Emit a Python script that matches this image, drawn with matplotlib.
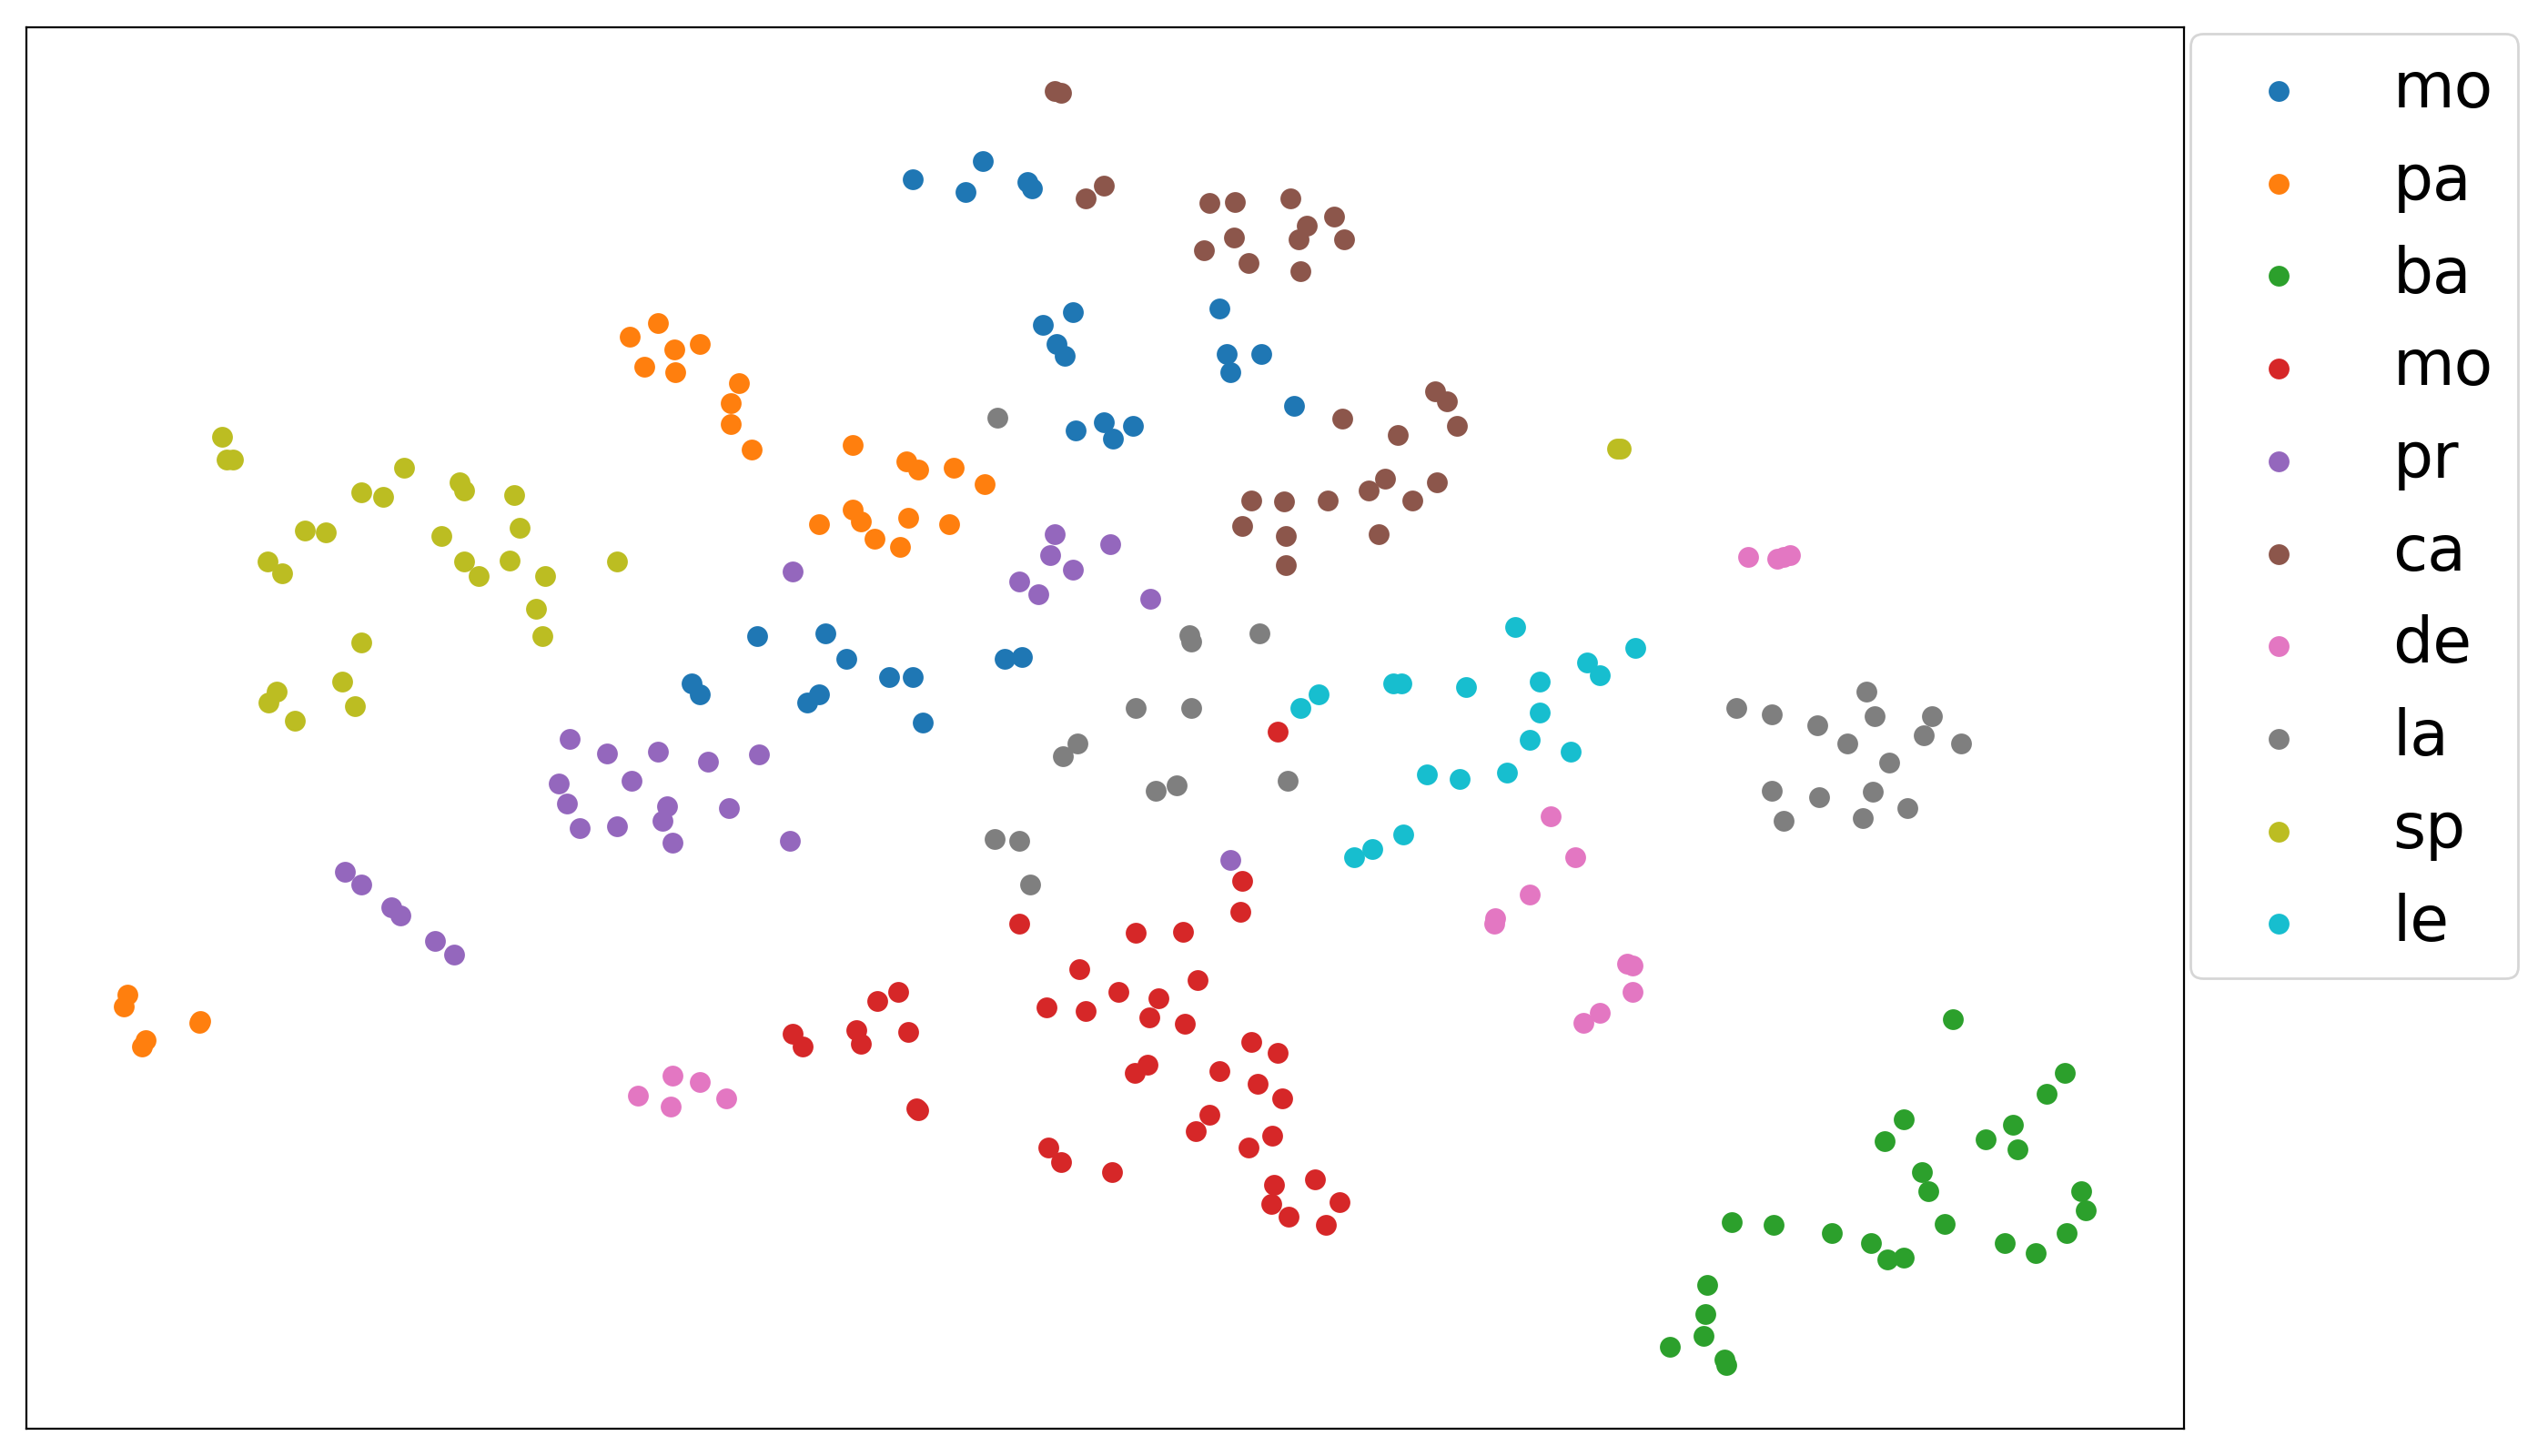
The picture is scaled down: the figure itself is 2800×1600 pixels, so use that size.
import matplotlib.pyplot as plt

# 2-D embedding coordinates (y grows upward)
labels = ["mo", "pa", "ba", "mo", "pr", "ca", "de", "la", "sp", "le"]

mo1_x = [563, 595, 606, 633, 636, 643, 661, 651, 656, 663, 680, 686, 698, 751, 756, 777, 758, 797,
         467, 509, 522, 548, 563, 569, 427, 432, 498, 505, 619, 630]
mo1_y = [110, 118, 99, 112, 116, 200, 192, 212, 219, 265, 260, 270, 262, 190, 218, 218, 229, 250,
         392, 390, 406, 417, 417, 445, 421, 428, 433, 428, 406, 405]

pa_x = [389, 406, 398, 416, 432, 417, 456, 451, 451, 464, 526, 559, 566, 588, 607, 505, 526, 531,
        539, 555, 560, 585, 78, 80, 89, 91, 124, 125]
pa_y = [207, 199, 226, 215, 212, 229, 236, 248, 261, 277, 274, 284, 289, 288, 298, 323, 314, 321,
        332, 337, 319, 323, 620, 613, 645, 641, 630, 629]

ba_x = [1202, 1271, 1260, 1172, 1160, 1222, 1239, 1242, 1183, 1187, 1281, 1284, 1197, 1066, 1092,
        1128, 1152, 1162, 1172, 1234, 1253, 1272, 1051, 1050, 1049, 1028, 1062, 1063]
ba_y = [628, 661, 674, 690, 703, 702, 693, 708, 722, 734, 734, 746, 754, 753, 755, 760, 766, 776,
        775, 766, 772, 760, 792, 810, 823, 830, 838, 841]

mo2_x = [787, 765, 764, 628, 700, 729, 665, 738, 689, 714, 645, 669, 708, 730, 771, 787, 707, 699,
         751, 775, 790, 745, 737, 784, 769, 646, 654, 685, 785, 810, 783, 825, 794, 817,
         541, 554, 489, 495, 528, 531, 560, 565, 566]
mo2_y = [451, 543, 562, 569, 575, 574, 597, 604, 611, 615, 621, 623, 627, 631, 642, 649, 656, 661,
         660, 668, 677, 687, 697, 700, 707, 707, 716, 722, 730, 727, 742, 741, 750, 755,
         617, 611, 637, 645, 635, 643, 636, 683, 684]

pr_x = [650, 684, 647, 661, 628, 640, 709, 489, 758, 352, 375, 406, 437, 468, 390, 345, 350, 412,
        409, 450, 358, 381, 415, 487, 214, 224, 242, 248, 269, 281]
pr_y = [329, 335, 342, 351, 358, 366, 369, 352, 530, 455, 464, 463, 469, 465, 481, 483, 495, 497,
        506, 498, 510, 509, 519, 518, 537, 545, 559, 564, 580, 588]

ca_x = [650, 654, 680, 669, 745, 761, 795, 822, 805, 760, 742, 769, 800, 828, 801, 884, 891, 897,
        827, 861, 771, 791, 818, 853, 885, 843, 870, 765, 792, 849, 792]
ca_y = [56, 57, 114, 122, 125, 124, 122, 133, 139, 146, 154, 162, 147, 147, 167, 241, 247, 262,
        258, 268, 308, 309, 308, 295, 297, 302, 308, 324, 330, 329, 348]

de_x = [1076, 1094, 1098, 1102, 955, 970, 942, 921, 920, 1002, 1005, 1005, 985, 975,
        394, 415, 432, 448, 414]
de_y = [343, 344, 343, 342, 503, 528, 551, 566, 569, 594, 595, 611, 624, 630,
        675, 663, 667, 677, 682]

la_x = [615, 733, 734, 776, 700, 734, 664, 655, 712, 725, 793, 613, 628, 635,
        1149, 1069, 1091, 1119, 1154, 1189, 1137, 1184, 1207, 1163, 1091, 1120, 1153, 1098, 1147, 1174]
la_y = [257, 391, 395, 390, 436, 436, 458, 466, 487, 484, 481, 517, 518, 545,
        426, 436, 440, 447, 441, 441, 458, 453, 458, 470, 487, 491, 488, 506, 504, 498]

sp_x = [138, 141, 145, 224, 237, 250, 284, 287, 318, 189, 202, 273, 321, 166, 175, 287, 296, 315,
        337, 381, 331, 335, 224, 212, 172, 167, 183, 220, 996, 998]
sp_y = [269, 283, 283, 303, 306, 288, 297, 302, 305, 327, 328, 330, 325, 346, 353, 346, 355, 345,
        355, 346, 375, 392, 396, 420, 426, 433, 444, 435, 276, 276]

le_x = [933, 1007, 977, 985, 948, 858, 863, 903, 812, 801, 948, 942, 967, 879, 899, 928, 864, 845, 834]
le_y = [386, 399, 408, 416, 420, 421, 421, 423, 428, 436, 439, 456, 463, 477, 480, 476, 514, 523, 528]

xs = [mo1_x, pa_x, ba_x, mo2_x, pr_x, ca_x, de_x, la_x, sp_x, le_x]
ys = [mo1_y, pa_y, ba_y, mo2_y, pr_y, ca_y, de_y, la_y, sp_y, le_y]

fig = plt.figure(figsize=(14, 8), dpi=200)
ax = fig.add_axes([0.0102, 0.019, 0.847, 0.962])
for x, y, lab in zip(xs, ys, labels):
    ax.scatter(x, [-v for v in y], s=52, label=lab)
ax.set_xticks([])
ax.set_yticks([])
ax.legend(loc='upper left', bbox_to_anchor=(1.0, 1.0), fontsize=25, borderaxespad=0.1)

plt.savefig('out.png')
